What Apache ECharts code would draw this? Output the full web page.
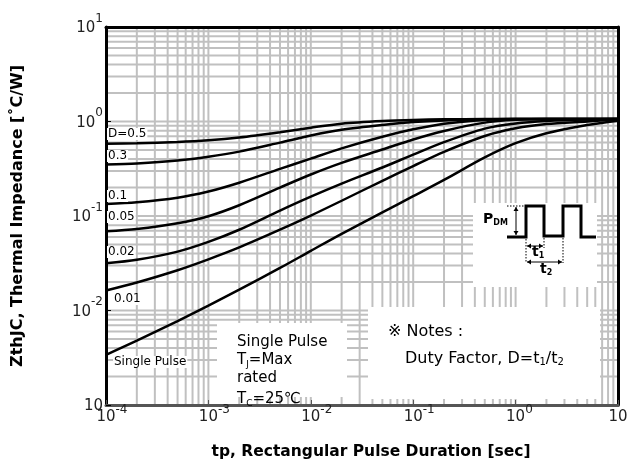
<!DOCTYPE html>
<html>
<head>
<meta charset="utf-8">
<script src="https://cdn.jsdelivr.net/npm/echarts@6/dist/echarts.min.js"></script>
<style>
html, body { margin: 0; padding: 0; background: #fff; }
#chart { width: 627px; height: 463px; }
</style>
</head>
<body>
<div id="chart"></div>
<script>
// pulse duration tp [sec]
var tp = [1e-4, 2e-4, 5e-4, 1e-3, 2e-3, 5e-3, 1e-2, 2e-2, 5e-2, 0.1, 0.2, 0.5, 1, 2, 5, 10];
// ZthJC [C/W] for each duty factor
var zD50 = [0.58, 0.588, 0.607, 0.633, 0.678, 0.771, 0.861, 0.949, 1.012, 1.04, 1.054, 1.062, 1.062, 1.062, 1.062, 1.062];
var zD30 = [0.35, 0.360, 0.387, 0.424, 0.480, 0.598, 0.710, 0.816, 0.919, 0.985, 1.027, 1.056, 1.062, 1.062, 1.062, 1.062];
var zD10 = [0.134, 0.1396, 0.156, 0.1815, 0.225, 0.315, 0.405, 0.52, 0.69, 0.826, 0.948, 1.04, 1.062, 1.062, 1.062, 1.062];
var zD05 = [0.069, 0.0729, 0.0838, 0.0995, 0.13, 0.20, 0.275, 0.365, 0.505, 0.646, 0.795, 0.973, 1.042, 1.062, 1.062, 1.062];
var zD02 = [0.0316, 0.0344, 0.0420, 0.0532, 0.0715, 0.114, 0.16, 0.22, 0.326, 0.446, 0.605, 0.841, 0.953, 1.014, 1.052, 1.062];
var zD01 = [0.0163, 0.0198, 0.0267, 0.0348, 0.0465, 0.0716, 0.101, 0.145, 0.236, 0.338, 0.478, 0.703, 0.847, 0.939, 1.002, 1.052];
var zSingle = [0.0034, 0.0048, 0.00773, 0.01125, 0.0166, 0.0282, 0.0428, 0.0648, 0.1093, 0.162, 0.241, 0.417, 0.590, 0.752, 0.92, 1.021];
var curveNames = ['D=0.5', '0.3', '0.1', '0.05', '0.02', '0.01', 'Single Pulse'];
// axis decades
var xDecades = [1e-4, 1e-3, 1e-2, 1e-1, 1, 10];
var yDecades = [1e-3, 1e-2, 1e-1, 1, 10];

var FONT = 'DejaVu Sans';
var GRID_COLOR = '#c0c0c0';
var X_MIN = 1e-4, X_MAX = 10, Y_MIN = 1e-3, Y_MAX = 10;

// grid line values at 1..9 x each decade
function logLines(decades) {
  var out = [];
  for (var i = 0; i < decades.length - 1; i++) {
    for (var m = 1; m <= 9; m++) {
      if (i === 0 && m === 1) continue;
      out.push(decades[i] * m);
    }
  }
  return out;
}

function pairs(ys) {
  return tp.map(function (t, i) { return [t, ys[i]]; });
}

function gridSeries(values, vertical) {
  return {
    type: 'custom',
    silent: true,
    z: 1,
    data: values.map(function (v) { return vertical ? [v, Y_MIN] : [X_MIN, v]; }),
    renderItem: function (params, api) {
      var a, b;
      if (vertical) {
        a = api.coord([api.value(0), Y_MIN]);
        b = api.coord([api.value(0), Y_MAX]);
      } else {
        a = api.coord([X_MIN, api.value(1)]);
        b = api.coord([X_MAX, api.value(1)]);
      }
      return {
        type: 'line',
        shape: { x1: a[0], y1: a[1], x2: b[0], y2: b[1] },
        style: { stroke: GRID_COLOR, lineWidth: 2 }
      };
    }
  };
}

// "10" with a raised exponent
function expRich(lineH) {
  return {
    b: { fontSize: 15, fontFamily: FONT, color: '#222', lineHeight: lineH, verticalAlign: 'bottom' },
    s: { fontSize: 12, fontFamily: FONT, color: '#222', lineHeight: 12, height: 1, verticalAlign: 'top' },
    p: { fontSize: 12, fontFamily: FONT, color: 'rgba(0,0,0,0)', lineHeight: 12, height: 1, verticalAlign: 'top' }
  };
}

var allCurves = [zD50, zD30, zD10, zD05, zD02, zD01, zSingle];
var series = [gridSeries(logLines(xDecades), true), gridSeries(logLines(yDecades), false)];
allCurves.forEach(function (c, i) {
  series.push({
    name: curveNames[i],
    type: 'line',
    data: pairs(c),
    symbol: 'none',
    smooth: 0.3,
    lineStyle: { color: '#000', width: 2.5 },
    z: 5
  });
});

function subText(x, y, parts, size, bold) {
  // parts: [text, isSub]
  var txt = parts.map(function (p) { return '{' + (p[1] ? 's' : 'n') + '|' + p[0] + '}'; }).join('');
  return {
    type: 'text', x: x, y: y, z: 30,
    style: {
      text: txt, verticalAlign: 'middle',
      rich: {
        n: { fontSize: size, fontFamily: FONT, fontWeight: bold ? 'bold' : 'normal', color: '#000', lineHeight: size + 3, verticalAlign: 'top' },
        s: { fontSize: Math.round(size * 0.6), fontFamily: FONT, fontWeight: bold ? 'bold' : 'normal', color: '#000', lineHeight: size + 3, padding: [Math.round(size * 0.45), 0, 0, 0], verticalAlign: 'top' }
      }
    }
  };
}

function label(x, y, t, size) {
  return {
    type: 'text', x: x, y: y, z: 20,
    style: { text: t, fontSize: size, fontFamily: FONT, fill: '#000', verticalAlign: 'middle', backgroundColor: '#fff', padding: [0, 1] }
  };
}

function arrowLine(x1, y1, x2, y2) {
  var horiz = y1 === y2;
  var h = 4, w = 2.5;
  var heads = horiz
    ? [[[x1, y1], [x1 + h, y1 - w], [x1 + h, y1 + w]], [[x2, y2], [x2 - h, y2 - w], [x2 - h, y2 + w]]]
    : [[[x1, y1], [x1 - w, y1 + h], [x1 + w, y1 + h]], [[x2, y2], [x2 - w, y2 - h], [x2 + w, y2 - h]]];
  var els = [{ type: 'line', z: 30, shape: { x1: x1, y1: y1, x2: x2, y2: y2 }, style: { stroke: '#000', lineWidth: 1 } }];
  heads.forEach(function (pts) {
    els.push({ type: 'polygon', z: 30, shape: { points: pts }, style: { fill: '#000' } });
  });
  return els;
}

function dotted(x1, y1, x2, y2) {
  return { type: 'line', z: 30, shape: { x1: x1, y1: y1, x2: x2, y2: y2 }, style: { stroke: '#000', lineWidth: 1, lineDash: [1.5, 1.5] } };
}

var graphics = [
  // white note boxes
  { type: 'rect', z: 10, shape: { x: 217, y: 323, width: 130, height: 74 }, style: { fill: '#fff' } },
  { type: 'rect', z: 10, shape: { x: 368, y: 307, width: 232, height: 92 }, style: { fill: '#fff' } },
  { type: 'rect', z: 10, shape: { x: 473, y: 203, width: 124, height: 84 }, style: { fill: '#fff' } },
  // curve labels
  label(107, 134, curveNames[0], 12),
  label(107, 156, curveNames[1], 12),
  label(107, 196, curveNames[2], 12),
  label(107, 217, curveNames[3], 12),
  label(107, 252, curveNames[4], 12),
  label(113, 299, curveNames[5], 12),
  label(113, 362, curveNames[6], 12),
  // single pulse conditions
  subText(237, 344, [['Single Pulse', 0]], 15),
  subText(237, 362, [['T', 0], ['J', 1], ['=Max', 0]], 15),
  subText(237, 380, [['rated', 0]], 15),
  subText(237, 401, [['T', 0], ['C', 1], ['=25\u2103', 0]], 15),
  // notes
  subText(388, 333, [['\u203B Notes :', 0]], 16),
  subText(405, 360, [['Duty Factor, D=t', 0], ['1', 1], ['/t', 0], ['2', 1]], 16),
  // pulse diagram
  { type: 'polyline', z: 30, shape: { points: [[507, 237], [526, 237], [526, 206], [544, 206], [544, 236], [563, 236], [563, 206], [581, 206], [581, 237], [596, 237]] },
    style: { stroke: '#000', lineWidth: 3, fill: null } },
  subText(483, 221, [['P', 0], ['DM', 1]], 14, true),
  subText(532, 254, [['t', 0], ['1', 1]], 14, true),
  subText(540, 271, [['t', 0], ['2', 1]], 14, true),
  dotted(507, 206, 525, 206),
  dotted(526, 239, 526, 263),
  dotted(544, 238, 544, 248),
  dotted(563, 238, 563, 263)
].concat(arrowLine(516, 207, 516, 235), arrowLine(527, 246, 543, 246), arrowLine(527, 262, 562, 262));

var chart = echarts.init(document.getElementById('chart'));
chart.setOption({
  animation: false,
  backgroundColor: '#fff',
  grid: { left: 106, right: 9, top: 27, bottom: 58, show: true, backgroundColor: '#fff', borderWidth: 0, containLabel: false, outerBoundsMode: 'none' },
  xAxis: [{
    type: 'log', logBase: 10, min: X_MIN, max: X_MAX, z: 8,
    name: 'tp, Rectangular Pulse Duration [sec]',
    nameLocation: 'middle', nameGap: 39,
    nameTextStyle: { fontFamily: FONT, fontWeight: 'bold', fontSize: 15.5, color: '#000', padding: [0, 0, 0, 18] },
    axisLine: { show: true, lineStyle: { color: '#555', width: 3 } },
    axisTick: { show: true, inside: true, length: 5, lineStyle: { color: '#555', width: 1 } },
    splitLine: { show: false },
    axisLabel: {
      margin: 4, color: '#222',
      formatter: function (v) {
        var e = Math.round(Math.log10(v));
        return '{p|' + e + '}{b|10}{s|' + e + '}';
      },
      rich: expRich(16)
    }
  }, {
    type: 'log', logBase: 10, min: X_MIN, max: X_MAX, position: 'top', z: 8,
    axisLine: { show: true, lineStyle: { color: '#000', width: 3 } },
    axisTick: { show: false }, axisLabel: { show: false }, splitLine: { show: false }
  }],
  yAxis: [{
    type: 'log', logBase: 10, min: Y_MIN, max: Y_MAX, z: 8,
    name: 'ZthJC, Thermal Impedance [\u02DAC/W]',
    nameLocation: 'middle', nameGap: 80,
    nameTextStyle: { fontFamily: FONT, fontWeight: 'bold', fontSize: 16, color: '#000' },
    axisLine: { show: true, lineStyle: { color: '#000', width: 3 } },
    axisTick: { show: true, inside: true, length: 5, lineStyle: { color: '#000', width: 1 } },
    splitLine: { show: false },
    axisLabel: {
      margin: 3, color: '#222',
      formatter: function (v) {
        var e = Math.round(Math.log10(v));
        if (e === -3) return '{b|10}';
        return '{b|10}{s|' + e + '}';
      },
      rich: expRich(18)
    }
  }, {
    type: 'log', logBase: 10, min: Y_MIN, max: Y_MAX, position: 'right', z: 8,
    axisLine: { show: true, lineStyle: { color: '#000', width: 3 } },
    axisTick: { show: false }, axisLabel: { show: false }, splitLine: { show: false }
  }],
  graphic: graphics,
  series: series
});
</script>
</body>
</html>
